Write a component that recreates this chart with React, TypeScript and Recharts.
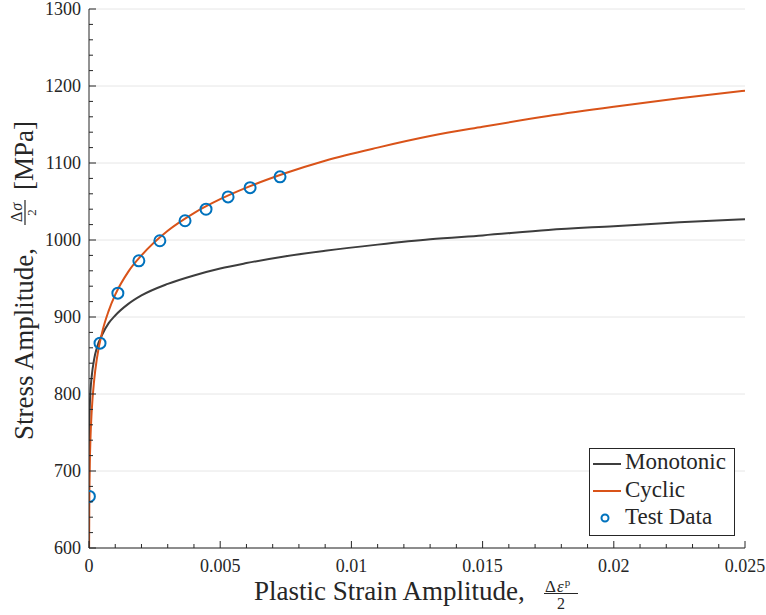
import { ComposedChart, Line, XAxis, YAxis, CartesianGrid, Legend } from 'recharts';

// Plastic strain amplitude (x) and stress amplitude in MPa (y)
const monotonicStrain = [0.0000001, 0.000001, 0.000005, 0.00001, 0.00003, 0.00006, 0.0001, 0.0002, 0.0003, 0.0005, 0.00075, 0.001, 0.0015, 0.002, 0.003, 0.004, 0.005, 0.006, 0.0075, 0.009, 0.011, 0.013, 0.015, 0.0175, 0.02, 0.0225, 0.025];
const monotonicStress = [623, 683, 729, 750, 783, 806, 822, 846, 860, 877, 892, 902, 917, 928, 943, 954, 963, 970, 979, 986, 994, 1001, 1006, 1013, 1018, 1023, 1027];

const cyclicStrain = [0.0000037, 0.00001, 0.00003, 0.00006, 0.0001, 0.0002, 0.0003, 0.0005, 0.00075, 0.001, 0.0015, 0.002, 0.003, 0.004, 0.005, 0.006, 0.0075, 0.009, 0.011, 0.013, 0.015, 0.0175, 0.02, 0.0225, 0.025];
const cyclicStress = [600, 649, 707, 746, 776, 819, 846, 880, 908, 929, 959, 980, 1012, 1035, 1053, 1068, 1087, 1103, 1120, 1135, 1147, 1161, 1173, 1184, 1194];

const testStrain = [0.000015, 0.00042, 0.0011, 0.0019, 0.0027, 0.00366, 0.00446, 0.0053, 0.00614, 0.00728];
const testStress = [667, 866, 931, 973, 999, 1025, 1040, 1056, 1068, 1082];

const seriesNames = ['Monotonic', 'Cyclic', 'Test Data'];

const xMajorTicks = [0, 0.005, 0.01, 0.015, 0.02, 0.025];
const xMinorTicks = [0.001, 0.002, 0.003, 0.004, 0.006, 0.007, 0.008, 0.009, 0.011, 0.012, 0.013, 0.014, 0.016, 0.017, 0.018, 0.019, 0.021, 0.022, 0.023, 0.024];
const yMajorTicks = [600, 700, 800, 900, 1000, 1100, 1200, 1300];
const yMinorTicks = [620, 640, 660, 680, 720, 740, 760, 780, 820, 840, 860, 880, 920, 940, 960, 980, 1020, 1040, 1060, 1080, 1120, 1140, 1160, 1180, 1220, 1240, 1260, 1280];

const monotonicData = monotonicStrain.map((x, i) => ({ x, y: monotonicStress[i] }));
const cyclicData = cyclicStrain.map((x, i) => ({ x, y: cyclicStress[i] }));
const testData = testStrain.map((x, i) => ({ x, y: testStress[i] }));

const FONT = 'Liberation Serif';
const AXIS = '#262626';
const MONO = '#3d3d3d';
const CYC = '#D95319';
const BLUE = '#0072BD';

function XTick(props: any) {
  const { x, y, payload } = props;
  const major = xMajorTicks.includes(payload.value);
  return (
    <g>
      <line x1={x} x2={x} y1={y} y2={y - (major ? 7 : 4)} stroke={AXIS} strokeWidth={1} />
      {major && (
        <text x={x} y={y + 24} textAnchor="middle" fontFamily={FONT} fontSize={18} fill={AXIS}>
          {String(payload.value)}
        </text>
      )}
    </g>
  );
}

function YTick(props: any) {
  const { x, y, payload } = props;
  const major = yMajorTicks.includes(payload.value);
  return (
    <g>
      <line x1={x} x2={x + (major ? 7 : 4)} y1={y} y2={y} stroke={AXIS} strokeWidth={1} />
      {major && (
        <text x={x - 8} y={y + 6} textAnchor="end" fontFamily={FONT} fontSize={18} fill={AXIS}>
          {String(payload.value)}
        </text>
      )}
    </g>
  );
}

function XTitle() {
  return (
    <g fill={AXIS} fontFamily={FONT}>
      <text x={254} y={600} fontSize={27}>Plastic Strain Amplitude,</text>
      <text x={545} y={591.5} fontSize={17}>
        Δ<tspan fontStyle="italic" dx={1}>ε</tspan>
        <tspan dy={-6} dx={1} fontSize={11}>p</tspan>
      </text>
      <line x1={544} x2={578} y1={593.5} y2={593.5} stroke={AXIS} strokeWidth={1.2} />
      <text x={561} y={609} textAnchor="middle" fontSize={16}>2</text>
    </g>
  );
}

function YTitle() {
  return (
    <g fill={AXIS} fontFamily={FONT} transform="translate(33,440) rotate(-90)">
      <text x={0} y={0} fontSize={27}>Stress Amplitude,</text>
      <text x={227.5} y={-11.5} textAnchor="middle" fontSize={16}>
        Δ<tspan fontStyle="italic" dx={1}>σ</tspan>
      </text>
      <line x1={215} x2={240} y1={-8} y2={-8} stroke={AXIS} strokeWidth={1.2} />
      <text x={227.5} y={3} textAnchor="middle" fontSize={13}>2</text>
      <text x={250} y={0} fontSize={27}>[MPa]</text>
    </g>
  );
}

function LegendBox() {
  return (
    <svg width={146} height={88} style={{ display: 'block' }} fontFamily={FONT} fontSize={23}>
      <rect x={0.5} y={0.5} width={145} height={87} fill="#fff" stroke={AXIS} strokeWidth={1} />
      <line x1={4} x2={32} y1={16} y2={16} stroke={MONO} strokeWidth={2} />
      <text x={36} y={21} fill={AXIS}>{seriesNames[0]}</text>
      <line x1={4} x2={32} y1={43} y2={43} stroke={CYC} strokeWidth={2} />
      <text x={36} y={49} fill={AXIS}>{seriesNames[1]}</text>
      <circle cx={16} cy={70} r={3.5} fill="none" stroke={BLUE} strokeWidth={2} />
      <text x={36} y={76} fill={AXIS}>{seriesNames[2]}</text>
    </svg>
  );
}

export default function App() {
  return (
    <div style={{ position: 'absolute', left: 0, top: 0, width: 766, height: 615, background: '#fff' }}>
      <ComposedChart width={766} height={615} margin={{ top: 9, right: 21, left: 0, bottom: 0 }} style={{ overflow: 'visible' }}>
        <CartesianGrid yAxisId="grid" vertical={false} stroke="#e6e6e6" strokeWidth={1} />
        <XAxis
          type="number"
          dataKey="x"
          domain={[0, 0.025]}
          allowDataOverflow
          ticks={[...xMajorTicks, ...xMinorTicks].sort((a, b) => a - b)}
          interval={0}
          height={67}
          tickSize={0}
          tickMargin={0}
          tickLine={false}
          tick={<XTick />}
          axisLine={{ stroke: AXIS, strokeWidth: 1 }}
          label={<XTitle />}
        />
        <YAxis
          type="number"
          dataKey="y"
          domain={[600, 1300]}
          allowDataOverflow
          ticks={[...yMajorTicks, ...yMinorTicks].sort((a, b) => a - b)}
          interval={0}
          width={89}
          tickSize={0}
          tickMargin={0}
          tickLine={false}
          tick={<YTick />}
          axisLine={{ stroke: AXIS, strokeWidth: 1 }}
          label={<YTitle />}
        />
        <YAxis yAxisId="grid" type="number" domain={[600, 1300]} ticks={yMajorTicks} hide allowDataOverflow />
        <Legend
          layout="vertical"
          align="center"
          verticalAlign="middle"
          content={<LegendBox />}
          wrapperStyle={{ left: 589, top: 448, width: 146, height: 88 }}
        />
        <Line
          data={monotonicData}
          dataKey="y"
          name={seriesNames[0]}
          type="monotone"
          stroke={MONO}
          strokeWidth={2}
          dot={false}
          isAnimationActive={false}
        />
        <Line
          data={cyclicData}
          dataKey="y"
          name={seriesNames[1]}
          type="monotone"
          stroke={CYC}
          strokeWidth={2}
          dot={false}
          isAnimationActive={false}
        />
        <Line
          data={testData}
          dataKey="y"
          name={seriesNames[2]}
          stroke="none"
          dot={{ r: 5.5, fill: 'none', stroke: BLUE, strokeWidth: 2 }}
          activeDot={false}
          isAnimationActive={false}
        />
      </ComposedChart>
    </div>
  );
}
